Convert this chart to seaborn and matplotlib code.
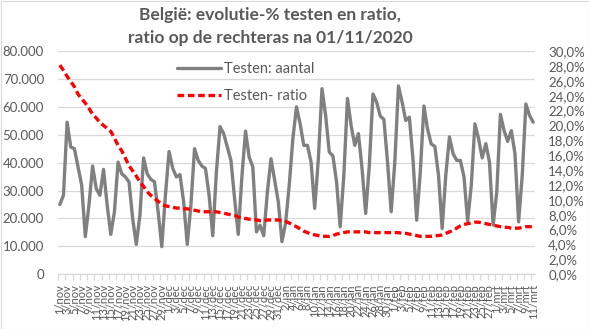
import matplotlib
matplotlib.use("Agg")
import matplotlib.pyplot as plt
import seaborn as sns
import pandas as pd
import numpy as np
from matplotlib.ticker import FuncFormatter, MultipleLocator, FixedLocator
from matplotlib.patches import Rectangle

# ---------------- data ----------------
start_date = "2020-11-01"
n_days = 131
month_names = {11: "nov", 12: "dec", 1: "jan", 2: "feb", 3: "mrt"}

tests = [25000, 28300, 54500, 45600, 45000, 38500, 32000, 13500, 24800, 38800,
         30700, 28300, 37600, 24800, 14300, 22400, 40200, 36000, 34900, 33100,
         20000, 10700, 21200, 41700, 36000, 34000, 33100, 22400, 9900, 28300,
         44000, 38000, 34900, 35700, 26000, 10700, 24800, 45000, 40800, 38800,
         37900, 28300, 13800, 36700, 52900, 50400, 45600, 40800, 27100, 14300,
         34900, 51300, 42000, 38500, 15200, 17600, 13800, 29500, 41400, 33700,
         26000, 11700, 18200, 31900, 48600, 60000, 53900, 46200, 46200, 40200,
         23600, 41400, 66500, 56900, 43800, 42400, 33100, 17000, 35500, 63000,
         53300, 46200, 50400, 37900, 21800, 39000, 64600, 61700, 56700, 55500,
         40200, 22400, 40200, 67500, 61700, 55100, 56300, 41000, 19400, 36700,
         60300, 52000, 46700, 45800, 35500, 16400, 35500, 49200, 43200, 40800,
         40800, 34900, 19000, 31900, 53900, 48600, 41700, 46800, 40200, 17600,
         29500, 57300, 51500, 47600, 51500, 43200, 18800, 35500, 61000, 56900,
         54500]

ratio = [28.1, 27.4, 26.6, 25.9, 25.2, 24.2, 23.6, 23.0, 22.3, 21.5,
         21.0, 20.4, 20.0, 19.6, 19.2, 18.3, 17.3, 16.6, 15.6, 14.6,
         13.9, 13.2, 12.4, 11.8, 11.1, 10.6, 10.2, 9.8, 9.4, 9.2,
         9.1, 9.0, 8.9, 8.9, 8.8, 8.8, 8.7, 8.6, 8.5, 8.4,
         8.4, 8.4, 8.4, 8.4, 8.3, 8.2, 8.1, 8.0, 7.9, 7.7,
         7.6, 7.5, 7.4, 7.4, 7.3, 7.2, 7.2, 7.3, 7.3, 7.3,
         7.3, 7.2, 7.1, 6.9, 6.6, 6.4, 6.1, 5.8, 5.6, 5.4,
         5.3, 5.2, 5.1, 5.1, 5.1, 5.2, 5.4, 5.5, 5.6, 5.7,
         5.7, 5.7, 5.7, 5.7, 5.7, 5.6, 5.6, 5.6, 5.6, 5.6,
         5.6, 5.6, 5.6, 5.6, 5.5, 5.5, 5.4, 5.3, 5.2, 5.1,
         5.1, 5.1, 5.1, 5.2, 5.2, 5.3, 5.5, 5.7, 5.9, 6.2,
         6.5, 6.7, 6.8, 6.9, 7.0, 7.0, 6.9, 6.8, 6.7, 6.6,
         6.5, 6.4, 6.3, 6.3, 6.2, 6.2, 6.2, 6.3, 6.4, 6.4,
         6.4]

dates = pd.date_range(start_date, periods=n_days, freq="D")
day_labels = [f"{d.day}/{month_names[d.month]}" for d in dates]

title_line1 = "België: evolutie-% testen en ratio,"
title_line2 = "ratio op de rechteras na 01/11/2020"
label_tests = "Testen: aantal"
label_ratio = "Testen- ratio"

# ---------------- style ----------------
sns.set_theme(style="white")
plt.rcParams['font.family'] = ['Lato', 'DejaVu Sans']
txt = '#595959'
grid_c = '#D9D9D9'

W, H = 589, 329
fig = plt.figure(figsize=(W / 100, H / 100), dpi=100)
fig.patch.set_facecolor('white')
ax = fig.add_axes([58 / W, (H - 274.3) / H, (535 - 58) / W, (274.3 - 51) / H])

df = pd.DataFrame({'dag': np.arange(n_days), 'aantal': tests, 'ratio': ratio})

sns.lineplot(data=df, x='dag', y='aantal', ax=ax, color='#808080', lw=2.4,
             legend=False, zorder=3)
ax2 = ax.twinx()
sns.lineplot(data=df, x='dag', y='ratio', ax=ax2, color='#FF0000', lw=2.4,
             legend=False, zorder=3)
ax2.lines[0].set_dashes([2.0, 1.1])

ax.set_xlim(-0.5, n_days - 0.5)
ax.set_ylim(0, 80000)
ax2.set_ylim(0, 30)

ax.yaxis.set_major_locator(MultipleLocator(10000))
ax.yaxis.set_major_formatter(FuncFormatter(lambda v, p: f"{v:,.0f}".replace(',', '.')))
ax2.yaxis.set_major_locator(MultipleLocator(2))
ax2.yaxis.set_major_formatter(FuncFormatter(lambda v, p: f"{v:.1f}%".replace('.', ',')))

ax.grid(axis='y', color=grid_c, lw=0.9)
ax.grid(axis='x', visible=False)
ax.set_axisbelow(True)

for a in (ax, ax2):
    for s in a.spines.values():
        s.set_visible(False)
ax.spines['bottom'].set_visible(True)
ax.spines['bottom'].set_color(grid_c)
ax.spines['bottom'].set_linewidth(0.9)

pos = list(range(0, n_days, 2))
ax.xaxis.set_major_locator(FixedLocator(pos))
ax.set_xticklabels([day_labels[i] for i in pos], rotation=90, fontsize=8, color=txt)
ax.xaxis.set_minor_locator(FixedLocator(np.arange(-0.5, n_days, 2)))
ax.tick_params(axis='x', which='major', length=0, pad=7)
ax.tick_params(axis='x', which='minor', length=4, color=grid_c, width=0.9, bottom=True)
ax.tick_params(axis='y', length=0, pad=10, labelsize=9.5, labelcolor=txt)
ax2.tick_params(axis='y', length=0, pad=9.5, labelsize=9.5, labelcolor=txt)
ax.set_xlabel('')
ax.set_ylabel('')
ax2.set_ylabel('')

# legend
h1 = ax.lines[0]
h2 = ax2.lines[0]
fig.legend([h1, h2], [label_tests, label_ratio], loc='upper left',
           bbox_to_anchor=(177 / W, 1 - 62 / H), frameon=False, fontsize=10.5,
           handlelength=3.0, handletextpad=0.25, labelspacing=0.9,
           borderpad=0, borderaxespad=0, labelcolor=txt)

# title
fig.text(270 / W, 1 - 15 / H, title_line1, ha='center', va='center',
         fontsize=12.5, fontweight='bold', color=txt)
fig.text(270 / W, 1 - 37.5 / H, title_line2, ha='center', va='center',
         fontsize=12.5, fontweight='bold', color=txt)

fig.patches.append(Rectangle((0.5 / W, 0.5 / H), 1 - 1 / W, 1 - 1 / H,
                             transform=fig.transFigure, fill=False,
                             edgecolor=grid_c, lw=0.8))

fig.savefig("out.png", dpi=100)
